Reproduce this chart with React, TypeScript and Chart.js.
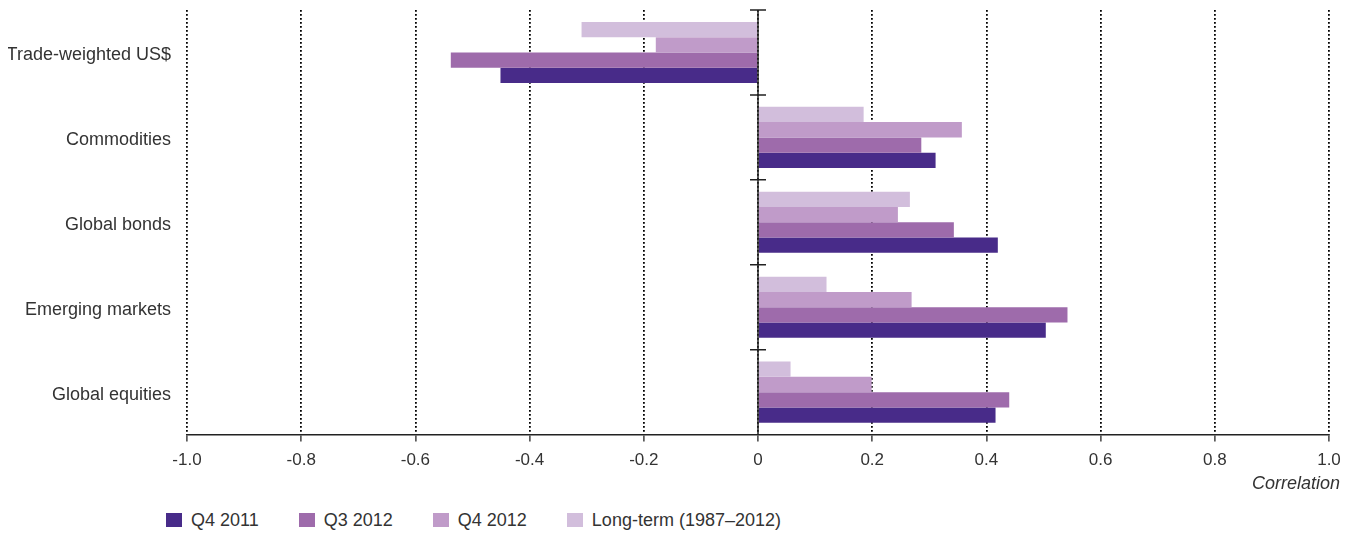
import React, { useEffect, useLayoutEffect, useRef } from "react";
import { Chart, registerables } from "chart.js";

Chart.register(...registerables);

const categories = [
  "Trade-weighted US$",
  "Commodities",
  "Global bonds",
  "Emerging markets",
  "Global equities",
];

const seriesNames = ["Q4 2011", "Q3 2012", "Q4 2012", "Long-term (1987–2012)"];
const seriesColors = ["#482B89", "#9E6BAB", "#C09BC9", "#D2BEDC"];

const q4_2011 = [-0.451, 0.311, 0.42, 0.504, 0.416];
const q3_2012 = [-0.538, 0.286, 0.343, 0.542, 0.44];
const q4_2012 = [-0.179, 0.357, 0.245, 0.269, 0.199];
const longTerm = [-0.309, 0.185, 0.266, 0.12, 0.057];

const xTickLabels = ["-1.0", "-0.8", "-0.6", "-0.4", "-0.2", "0", "0.2", "0.4", "0.6", "0.8", "1.0"];
const axisTitle = "Correlation";

const FONT = "'Liberation Sans', Arial, Helvetica, sans-serif";
const TEXT = "#333333";

export default function App() {
  const ref = useRef<HTMLCanvasElement>(null);

  useLayoutEffect(() => {
    document.body.style.margin = "0";
  }, []);

  useEffect(() => {
    const series = [q4_2011, q3_2012, q4_2012, longTerm];
    const drawOrder = [3, 2, 1, 0];

    const zeroLine = {
      id: "zeroLine",
      afterDatasetsDraw(chart: any) {
        const { ctx, chartArea, scales } = chart;
        const x0 = scales.x.getPixelForValue(0);
        ctx.save();
        ctx.strokeStyle = "#222";
        ctx.lineWidth = 1.5;
        ctx.beginPath();
        ctx.moveTo(x0, chartArea.top);
        ctx.lineTo(x0, chartArea.bottom);
        for (let i = 0; i < categories.length; i++) {
          const y = scales.y.getPixelForValue(i - 0.5);
          ctx.moveTo(x0 - 8, y);
          ctx.lineTo(x0 + 8, y);
        }
        ctx.stroke();
        ctx.restore();
      },
    };

    const chart = new Chart(ref.current as HTMLCanvasElement, {
      type: "bar",
      data: {
        labels: categories,
        datasets: drawOrder.map((i) => ({
          label: seriesNames[i],
          data: series[i],
          backgroundColor: seriesColors[i],
          borderWidth: 0,
          categoryPercentage: 0.72,
          barPercentage: 1,
        })),
      },
      options: {
        indexAxis: "y",
        animation: false,
        responsive: false,
        layout: { padding: { top: 2, right: 22, left: 8, bottom: 0 } },
        plugins: { legend: { display: false }, tooltip: { enabled: false } },
        scales: {
          x: {
            min: -1,
            max: 1,
            ticks: {
              stepSize: 0.2,
              color: TEXT,
              font: { family: FONT, size: 17 },
              padding: 9,
              callback: (_v: any, i: number) => xTickLabels[i],
            },
            grid: {
              color: "#000",
              lineWidth: 1.8,
              tickLength: 7,
              tickColor: "#222",
              tickWidth: 1.3,
              tickBorderDash: [],
            },
            border: { display: true, color: "#222", width: 1.5, dash: [1.8, 2.2] },
          },
          y: {
            grid: { display: false },
            border: { display: false },
            ticks: {
              color: TEXT,
              font: { family: FONT, size: 18 },
              padding: 8,
              labelOffset: 3,
            },
            afterFit: (s: any) => {
              s.width = 179;
              s.paddingTop = 0;
              s.paddingBottom = 0;
            },
          },
        },
      },
      plugins: [zeroLine],
    } as any);
    return () => chart.destroy();
  }, []);

  const legendOrder = [0, 1, 2, 3];

  return (
    <div style={{ position: "relative", width: 1359, height: 534, overflow: "hidden", background: "#fff" }}>
      <canvas
        ref={ref}
        width={1351}
        height={472}
        style={{ position: "absolute", left: 0, top: 8, width: 1351, height: 472 }}
      />
      <div
        style={{
          position: "absolute",
          right: 19,
          top: 473,
          font: `italic 18px ${FONT}`,
          lineHeight: "20px",
          color: TEXT,
          whiteSpace: "nowrap",
        }}
      >
        {axisTitle}
      </div>
      <div
        style={{
          position: "absolute",
          left: 166,
          top: 509.5,
          display: "flex",
          alignItems: "center",
          gap: 40,
          font: `18px ${FONT}`,
          lineHeight: "20px",
          color: TEXT,
          whiteSpace: "nowrap",
        }}
      >
        {legendOrder.map((i) => (
          <div key={i} style={{ display: "flex", alignItems: "center" }}>
            <span
              style={{
                display: "inline-block",
                width: 16,
                height: 14,
                background: seriesColors[i],
                marginRight: 9,
              }}
            />
            <span>{seriesNames[i]}</span>
          </div>
        ))}
      </div>
    </div>
  );
}
